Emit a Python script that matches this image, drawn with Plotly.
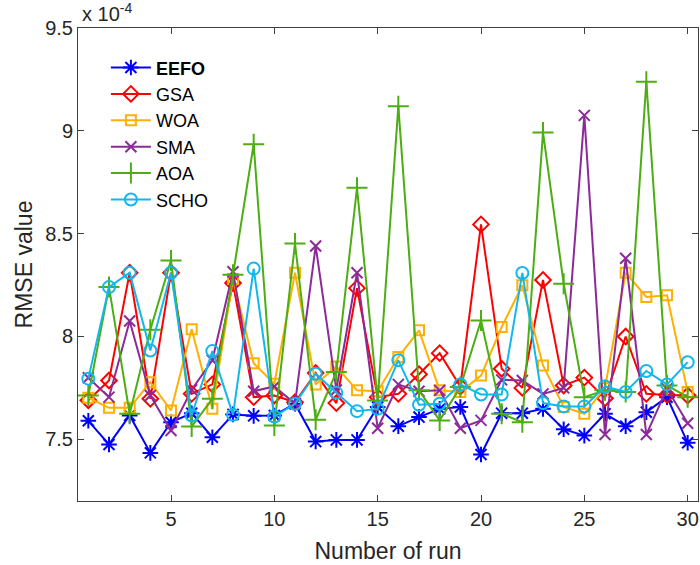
import plotly.graph_objects as go

# RMSE per run, in units of 1e-4
runs = list(range(1, 31))

eefo = [7.590, 7.475, 7.616, 7.434, 7.583, 7.627, 7.510, 7.621, 7.614, 7.616,
        7.673, 7.489, 7.497, 7.497, 7.657, 7.564, 7.608, 7.648, 7.657, 7.426,
        7.627, 7.627, 7.648, 7.549, 7.518, 7.624, 7.564, 7.632, 7.705, 7.483]
gsa = [7.690, 7.786, 8.310, 7.697, 8.310, 7.721, 7.767, 8.260, 7.705, 7.713,
       7.680, 7.822, 7.676, 8.235, 7.705, 7.721, 7.816, 7.919, 7.757, 8.545,
       7.843, 7.750, 8.275, 7.762, 7.800, 7.700, 8.000, 7.721, 7.716, 7.713]
woa = [7.702, 7.653, 7.653, 7.778, 7.640, 8.035, 7.648, 8.280, 7.870, 7.770,
       8.310, 7.767, 7.854, 7.738, 7.734, 7.900, 8.030, 7.738, 7.730, 7.810,
       8.046, 8.249, 7.859, 7.657, 7.624, 7.750, 8.310, 8.192, 8.200, 7.730]
sma = [7.799, 7.705, 8.075, 7.713, 7.543, 7.741, 7.884, 8.315, 7.734, 7.757,
       7.673, 8.440, 7.740, 8.310, 7.554, 7.767, 7.734, 7.738, 7.554, 7.592,
       7.789, 7.786, 7.721, 7.750, 9.075, 7.523, 8.380, 7.523, 7.746, 7.578]
aoa = [7.713, 8.240, 7.624, 8.033, 8.370, 7.562, 7.697, 8.300, 8.935, 7.567,
       8.452, 7.595, 7.827, 8.723, 7.689, 9.120, 7.738, 7.592, 7.754, 8.078,
       7.624, 7.583, 8.992, 8.257, 7.705, 7.738, 7.730, 9.239, 7.762, 7.705]
scho = [7.795, 8.240, 8.310, 7.932, 8.310, 7.616, 7.929, 7.619, 8.330, 7.611,
        7.673, 7.819, 7.726, 7.637, 7.648, 7.884, 7.668, 7.673, 7.767, 7.718,
        7.718, 8.309, 7.676, 7.660, 7.660, 7.757, 7.730, 7.832, 7.767, 7.875]

x_ticks = [5, 10, 15, 20, 25, 30]
y_ticks = [7.5, 8, 8.5, 9, 9.5]

series = [
    ('<b>EEFO</b>', eefo, '#0000FF', 'asterisk-open', 13),
    ('GSA', gsa, '#FF0000', 'diamond-open', 12),
    ('WOA', woa, '#FFB000', 'square-open', 10),
    ('SMA', sma, '#8B2A98', 'x-thin-open', 11),
    ('AOA', aoa, '#4DAE14', 'cross-thin-open', 15),
    ('SCHO', scho, '#12B8EC', 'circle-open', 12),
]

fig = go.Figure()
for name, vals, color, symbol, size in series:
    fig.add_trace(go.Scatter(
        x=runs, y=vals, name=name, mode='lines+markers',
        line=dict(color=color, width=2),
        marker=dict(symbol=symbol, size=size, color=color,
                    line=dict(color=color, width=2)),
    ))

axis_style = dict(
    showline=True, linecolor='#404040', linewidth=1, mirror='ticks',
    ticks='inside', ticklen=6, tickcolor='#404040', showgrid=False,
    zeroline=False, tickfont=dict(size=20, color='#262626'),
)

fig.update_xaxes(range=[0.5, 30.5], tickvals=x_ticks,
                 title=dict(text='Number of run', font=dict(size=23, color='#262626'),
                            standoff=13),
                 **axis_style)
fig.update_yaxes(range=[7.2, 9.5], tickvals=y_ticks,
                 title=dict(text='RMSE value', font=dict(size=23, color='#262626'),
                            standoff=6),
                 **axis_style)

fig.add_annotation(
    text='x 10<sup>-4</sup>', xref='paper', yref='paper', x=0, y=1,
    xanchor='left', yanchor='bottom', xshift=2, yshift=1, showarrow=False,
    font=dict(size=20, color='#262626'),
)

fig.update_layout(
    width=700, height=565,
    margin=dict(l=78, r=2, t=28, b=64),
    paper_bgcolor='white', plot_bgcolor='white',
    font=dict(family='Liberation Sans, Arial, sans-serif', color='#262626'),
    legend=dict(x=0.045, y=0.955, xanchor='left', yanchor='top',
                bgcolor='rgba(0,0,0,0)', font=dict(size=18, color='black'),
                tracegroupgap=0, itemwidth=40),
)

# page has a default body margin; drop it so the figure sits at the corner
fig.write_html('out.html',
               config={'displayModeBar': False},
               post_script="document.body.style.margin='0';"
                           "document.body.style.overflow='hidden';")
